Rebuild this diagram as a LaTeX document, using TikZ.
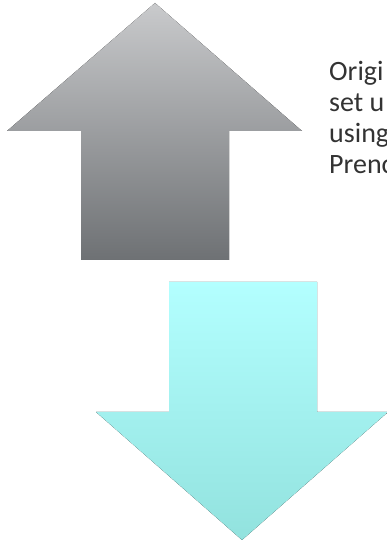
\documentclass[tikz,border=0pt]{standalone}
\usepackage{fontspec}
\setmainfont{Carlito}
\usepackage{tikz}
\definecolor{liftTop}{HTML}{C9CACC}
\definecolor{liftBot}{HTML}{6E7174}
\definecolor{dropTop}{HTML}{B3FFFF}
\definecolor{dropBot}{HTML}{92E2DE}
\definecolor{noteInk}{HTML}{333333}

\begin{document}
\begin{tikzpicture}[x=1pt, y=1pt,
    liftarrow/.style={top color=liftTop, bottom color=liftBot, draw=none},
    droparrow/.style={top color=dropTop, bottom color=dropBot, draw=none},
    notetext/.style={align=left, inner sep=0pt, text=noteInk,
      font=\fontsize{28}{31}\selectfont}]
  \useasboundingbox (0,0) rectangle (387,544);
  % up arrow (gray)
  \def\ux{155} \def\uhl{7} \def\uhr{302} \def\usl{81} \def\usr{229}
  \fill[liftarrow] (\ux,541) -- (\uhr,413) -- (\usr,413) -- (\usr,284)
        -- (\usl,284) -- (\usl,413) -- (\uhl,413) -- cycle;
  % down arrow (cyan)
  \def\dx{242} \def\dhl{96} \def\dhr{388} \def\dsl{169} \def\dsr{317}
  \fill[droparrow] (\dsl,262) -- (\dsr,262) -- (\dsr,132) -- (\dhr,132)
        -- (\dx,4) -- (\dhl,132) -- (\dsl,132) -- cycle;
  % side note, cut off by the page edge (base = last line)
  \node[notetext, anchor=base west] (note) at (329,370)
        {Origi\\set u\\using\\Prenc};
\end{tikzpicture}
\end{document}
